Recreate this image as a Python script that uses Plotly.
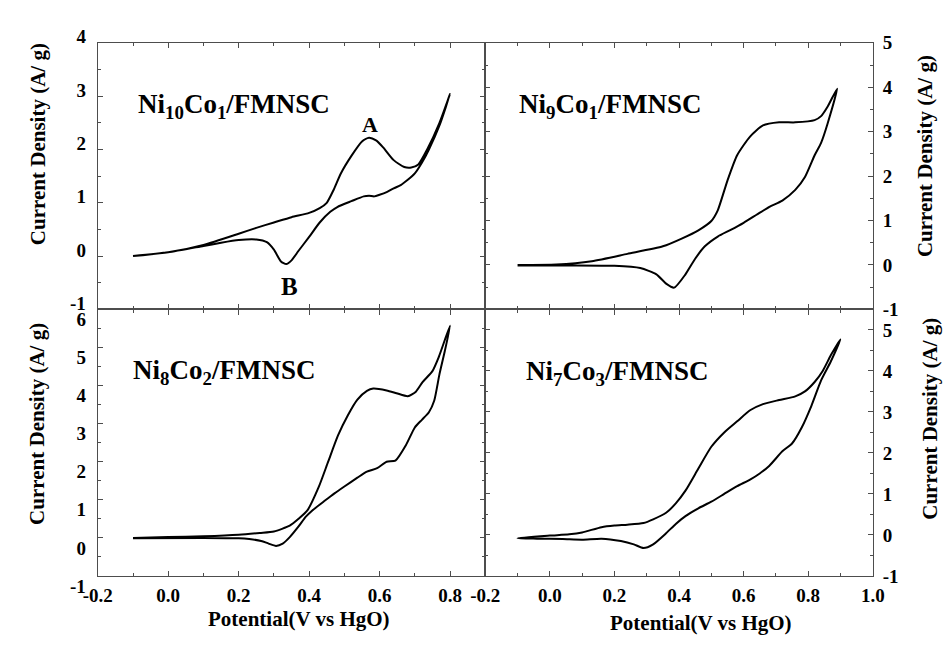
import plotly.graph_objects as go

# ---------------- data ----------------
# Ni10Co1/FMNSC (top-left)
ni10_fwd_v = [-0.1, 0.0, 0.1, 0.2, 0.25, 0.3, 0.35, 0.4, 0.43, 0.45, 0.47, 0.49, 0.52, 0.55, 0.57, 0.59, 0.61, 0.64, 0.67, 0.69, 0.71, 0.735, 0.77, 0.80]
ni10_fwd_j = [0.0, 0.07, 0.21, 0.42, 0.53, 0.63, 0.73, 0.81, 0.9, 1.0, 1.25, 1.55, 1.88, 2.15, 2.22, 2.17, 2.04, 1.8, 1.67, 1.66, 1.72, 2.0, 2.5, 3.04]
ni10_rev_v = [0.80, 0.77, 0.74, 0.72, 0.70, 0.68, 0.66, 0.64, 0.62, 0.60, 0.585, 0.57, 0.555, 0.52, 0.48, 0.46, 0.43, 0.40, 0.37, 0.35, 0.335, 0.32, 0.30, 0.28, 0.25, 0.2, 0.15, 0.1, 0.0, -0.1]
ni10_rev_j = [3.04, 2.45, 2.0, 1.75, 1.55, 1.43, 1.33, 1.27, 1.2, 1.15, 1.12, 1.13, 1.12, 1.03, 0.92, 0.83, 0.63, 0.36, 0.1, -0.08, -0.15, -0.1, 0.12, 0.26, 0.31, 0.30, 0.25, 0.19, 0.07, 0.0]

# Ni9Co1/FMNSC (top-right)
ni9_fwd_v = [-0.1, 0.02, 0.13, 0.24, 0.35, 0.41, 0.46, 0.50, 0.52, 0.55, 0.58, 0.62, 0.66, 0.71, 0.76, 0.82, 0.84, 0.86, 0.89]
ni9_fwd_j = [0.0, 0.01, 0.085, 0.25, 0.42, 0.6, 0.78, 0.99, 1.23, 1.9, 2.47, 2.89, 3.14, 3.21, 3.21, 3.26, 3.35, 3.56, 3.97]
ni9_rev_v = [0.89, 0.86, 0.84, 0.82, 0.79, 0.76, 0.72, 0.68, 0.64, 0.60, 0.56, 0.52, 0.48, 0.45, 0.42, 0.385, 0.36, 0.33, 0.28, 0.2, 0.06, -0.1]
ni9_rev_j = [3.97, 3.18, 2.75, 2.47, 1.98, 1.69, 1.45, 1.31, 1.13, 0.95, 0.79, 0.64, 0.42, 0.14, -0.21, -0.51, -0.42, -0.21, -0.07, -0.02, -0.01, -0.01]

# Ni8Co2/FMNSC (bottom-left)
ni8_fwd_v = [-0.1, 0.0, 0.1, 0.2, 0.26, 0.3, 0.345, 0.37, 0.395, 0.427, 0.454, 0.482, 0.51, 0.537, 0.564, 0.582, 0.62, 0.648, 0.68, 0.703, 0.722, 0.75, 0.768, 0.8]
ni8_fwd_j = [0.0, 0.02, 0.04, 0.08, 0.13, 0.17, 0.32, 0.5, 0.72, 1.33, 2.0, 2.69, 3.22, 3.63, 3.86, 3.92, 3.87, 3.8, 3.72, 3.84, 4.09, 4.38, 4.75, 5.57]
ni8_rev_v = [0.8, 0.785, 0.77, 0.755, 0.74, 0.72, 0.70, 0.675, 0.645, 0.62, 0.593, 0.564, 0.537, 0.5, 0.472, 0.445, 0.409, 0.39, 0.37, 0.345, 0.325, 0.306, 0.285, 0.264, 0.23, 0.2, 0.1, -0.1]
ni8_rev_j = [5.57, 4.9, 4.3, 3.6, 3.3, 3.1, 2.9, 2.44, 2.03, 2.0, 1.83, 1.74, 1.58, 1.35, 1.17, 0.98, 0.72, 0.55, 0.3, 0.02, -0.15, -0.21, -0.15, -0.08, -0.03, -0.01, 0.0, -0.01]

# Ni7Co3/FMNSC (bottom-right)
ni7_fwd_v = [-0.1, 0.0, 0.06, 0.1, 0.16, 0.2, 0.24, 0.29, 0.32, 0.36, 0.39, 0.42, 0.46, 0.5, 0.54, 0.58, 0.62, 0.66, 0.71, 0.76, 0.79, 0.82, 0.845, 0.87, 0.9]
ni7_fwd_j = [-0.077, -0.015, 0.015, 0.06, 0.19, 0.23, 0.25, 0.29, 0.38, 0.54, 0.77, 1.08, 1.62, 2.15, 2.5, 2.77, 3.04, 3.19, 3.29, 3.38, 3.5, 3.73, 4.0, 4.38, 4.77]
ni7_rev_v = [0.9, 0.87, 0.84, 0.81, 0.78, 0.75, 0.72, 0.68, 0.65, 0.62, 0.58, 0.54, 0.5, 0.46, 0.42, 0.39, 0.36, 0.32, 0.29, 0.26, 0.22, 0.16, 0.1, 0.04, -0.04, -0.1]
ni7_rev_j = [4.77, 4.23, 3.77, 3.15, 2.62, 2.23, 2.04, 1.69, 1.5, 1.35, 1.19, 1.0, 0.81, 0.65, 0.46, 0.27, 0.04, -0.23, -0.32, -0.23, -0.15, -0.09, -0.115, -0.1, -0.09, -0.077]

# tick labels
x_ticks_left = [-0.2, 0.0, 0.2, 0.4, 0.6, 0.8]
x_text_left = ["-0.2", "0.0", "0.2", "0.4", "0.6", "0.8"]
x_ticks_right = [-0.2, 0.0, 0.2, 0.4, 0.6, 0.8, 1.0]
x_text_right = ["-0.2", "0.0", "0.2", "0.4", "0.6", "0.8", "1.0"]
y_ticks_tl = [-1, 0, 1, 2, 3, 4]
y_ticks_tr = [-1, 0, 1, 2, 3, 4, 5]
y_ticks_bl = [-1, 0, 1, 2, 3, 4, 5, 6]
y_ticks_br = [-1, 0, 1, 2, 3, 4, 5]

panel_labels = ["Ni<sub>10</sub>Co<sub>1</sub>/FMNSC", "Ni<sub>9</sub>Co<sub>1</sub>/FMNSC",
                "Ni<sub>8</sub>Co<sub>2</sub>/FMNSC", "Ni<sub>7</sub>Co<sub>3</sub>/FMNSC"]
y_title = "Current Density (A/ g)"
x_title = "Potential(V vs HgO)"

# ---------------- figure ----------------
OFF = 8                      # page body margin
W, H = 952 - 2 * OFF, 653 - 2 * OFF
FONT = "Liberation Serif, Times New Roman, serif"
AXC = "#4d4d4d"

def px(x):
    return (x - OFF) / W

def py(y):
    return 1 - (y - OFF) / H

fig = go.Figure()

def add_loop(fv, fj, rv, rj, xa, ya):
    fig.add_trace(go.Scatter(x=fv + rv[1:], y=fj + rj[1:], mode="lines",
                             line=dict(color="black", width=2, shape="spline", smoothing=0.6),
                             xaxis=xa, yaxis=ya, showlegend=False, hoverinfo="skip"))

add_loop(ni10_fwd_v, ni10_fwd_j, ni10_rev_v, ni10_rev_j, "x", "y")
add_loop(ni9_fwd_v, ni9_fwd_j, ni9_rev_v, ni9_rev_j, "x2", "y2")
add_loop(ni8_fwd_v, ni8_fwd_j, ni8_rev_v, ni8_rev_j, "x3", "y3")
add_loop(ni7_fwd_v, ni7_fwd_j, ni7_rev_v, ni7_rev_j, "x4", "y4")

tickfont = dict(family=FONT, size=19, color="black", weight="bold")

def bold(items):
    return ["<b>%s</b>" % t for t in items]

def xaxis(domain, anchor, rng, vals, texts, show):
    return dict(domain=domain, anchor=anchor, range=rng, tickmode="array", tickvals=vals, ticktext=bold(texts),
                showticklabels=show, ticks="inside", ticklen=5, tickwidth=1, tickcolor=AXC,
                minor=dict(tickmode="linear", tick0=0, dtick=0.1, ticks="inside", ticklen=3, tickcolor=AXC),
                showline=True, linecolor=AXC, linewidth=1.2, mirror="ticks",
                showgrid=False, zeroline=False, tickfont=tickfont, ticklabelstandoff=2)

def yaxis(domain, anchor, rng, vals, side, shift, standoff):
    return dict(domain=domain, anchor=anchor, range=rng, tickmode="array", tickvals=vals,
                ticktext=bold([str(v) for v in vals]), side=side,
                ticks="inside", ticklen=5, tickwidth=1, tickcolor=AXC,
                minor=dict(tickmode="linear", tick0=0, dtick=0.5, ticks="inside", ticklen=3, tickcolor=AXC),
                showline=True, linecolor=AXC, linewidth=1.2, mirror="ticks",
                showgrid=False, zeroline=False, tickfont=tickfont, ticklabelstandoff=standoff,
                ticklabelshift=shift)

xl = [px(85), px(484)]
xr = [px(484), px(883)]
yt = [py(311), py(28)]
yb = [py(594), py(311)]

fig.update_layout(
    width=W, height=H, margin=dict(l=0, r=0, t=0, b=0),
    paper_bgcolor="white", plot_bgcolor="white",
    xaxis=xaxis(xl, "y", [-0.2, 0.9], x_ticks_left, x_text_left, False),
    yaxis=yaxis(yt, "x", [-1, 4], y_ticks_tl, "left", -6, 7),
    xaxis2=xaxis(xr, "y2", [-0.2, 1.0], x_ticks_right, x_text_right, False),
    yaxis2=yaxis(yt, "x2", [-1, 5], y_ticks_tr, "right", 0, 5),
    xaxis3=xaxis(xl, "y3", [-0.2, 0.9], x_ticks_left, x_text_left, True),
    yaxis3=yaxis(yb, "x3", [-1, 6], y_ticks_bl, "left", 10, 7),
    xaxis4=xaxis(xr, "y4", [-0.2, 1.0], x_ticks_right, x_text_right, True),
    yaxis4=yaxis(yb, "x4", [-1, 5.5], y_ticks_br, "right", 0, 5),
)

def ann(text, x, y, size, angle=0, xanchor="center", yanchor="middle"):
    fig.add_annotation(text=text, x=px(x), y=py(y), xref="paper", yref="paper",
                       showarrow=False, textangle=angle, xanchor=xanchor, yanchor=yanchor,
                       font=dict(family=FONT, size=size, color="black", weight="bold"))

# axis titles
ann(y_title, 23, 136, 21, -90)
ann(y_title, 23, 433, 21, -90)
ann(y_title, 937, 148, 21, -90)
ann(y_title, 942, 427, 21, -90)
ann(x_title, 292, 640, 21)
ann(x_title, 706, 644, 21)

# panel labels
ann(panel_labels[0], 124, 95, 27, xanchor="left")
ann(panel_labels[1], 517, 95, 27, xanchor="left")
ann(panel_labels[2], 119, 377, 27, xanchor="left")
ann(panel_labels[3], 524, 378, 27, xanchor="left")

# peak labels
ann("A", 365, 115, 22)
ann("B", 282, 287, 25)

fig.write_html("out.html")
